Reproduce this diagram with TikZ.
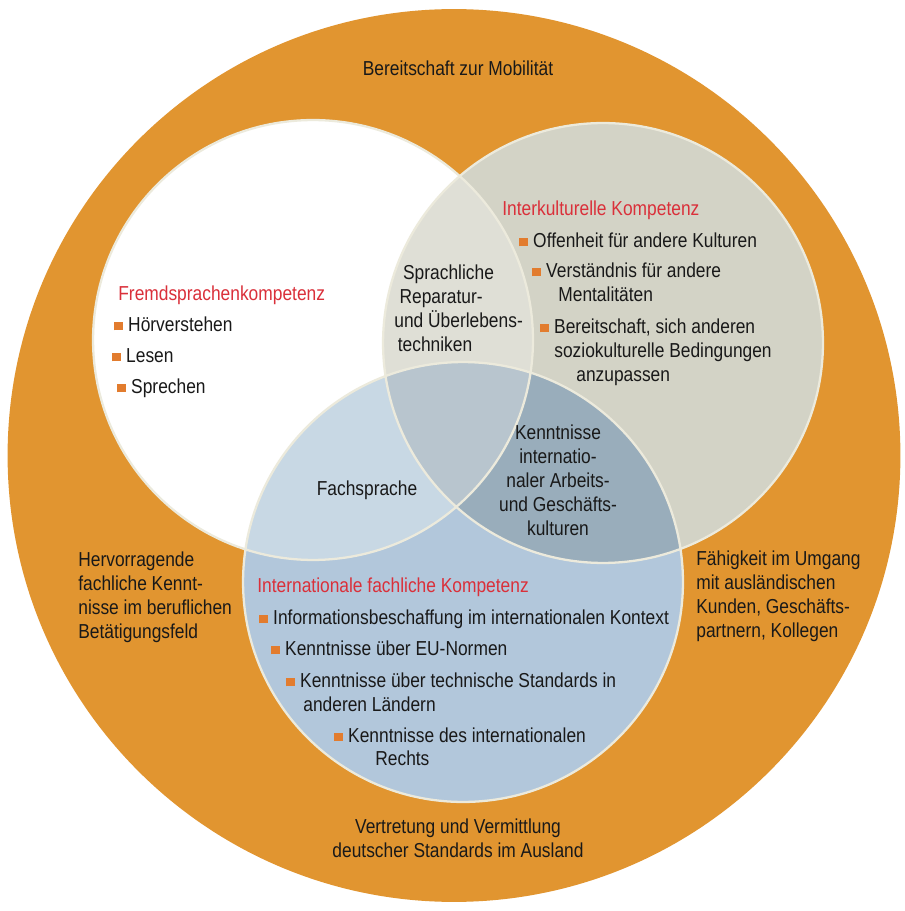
\documentclass[tikz,border=0pt]{standalone}
\usepackage{fontspec}
\setmainfont{Liberation Sans}[FakeStretch=0.86]

\definecolor{ringorange}{RGB}{225,149,48}
\definecolor{kultgrey}{RGB}{211,211,198}
\definecolor{fachblue}{RGB}{178,199,219}
\definecolor{sprgrey}{RGB}{223,223,214}
\definecolor{sprblue}{RGB}{200,216,228}
\definecolor{kultblue}{RGB}{153,173,187}
\definecolor{allthree}{RGB}{184,197,206}
\definecolor{rimcream}{RGB}{236,234,220}
\definecolor{titlered}{RGB}{218,48,58}
\definecolor{bulorange}{RGB}{226,124,46}
\definecolor{txtdark}{RGB}{25,25,25}

\newcommand{\bul}{{\color{bulorange}\rule[0.15ex]{0.8ex}{0.8ex}}\hspace{0.5ex}}
\newcommand{\rc}{4.4cm}

\tikzset{
    lbl/.style={inner sep=0pt, text=txtdark, font=\fontsize{11.5}{13.6}\selectfont,
        text height=8.8pt, text depth=2pt},
    ttl/.style={lbl, text=titlered},
    blk/.style={inner sep=0pt, text=txtdark, font=\fontsize{11.5}{13.6}\selectfont},
    rim/.style={draw=rimcream, line width=1.3pt},
}

\begin{document}
\begin{tikzpicture}[x=0.02cm,y=-0.02cm]
    \useasboundingbox (0,0) rectangle (904,911);

    % outer ring
    \fill[ringorange] (454,455.5) circle (8.93cm);

    % the three competence circles
    \coordinate (cspr) at (313,340);
    \coordinate (ckult) at (603,343);
    \coordinate (cfach) at (463,582);

    \fill[white] (cspr) circle (\rc);
    \fill[kultgrey] (ckult) circle (\rc);
    \fill[fachblue] (cfach) circle (\rc);
    \begin{scope}
        \clip (cspr) circle (\rc);
        \fill[sprgrey] (ckult) circle (\rc);
        \fill[sprblue] (cfach) circle (\rc);
    \end{scope}
    \begin{scope}
        \clip (ckult) circle (\rc);
        \fill[kultblue] (cfach) circle (\rc);
        \clip (cspr) circle (\rc);
        \fill[allthree] (cfach) circle (\rc);
    \end{scope}
    \draw[rim] (cspr) circle (\rc) (ckult) circle (\rc) (cfach) circle (\rc);

    % ring texts
    \node[lbl] (mobil) at (458,70) {Bereitschaft zur Mobilität};
    \node[blk, align=left, anchor=west] (hervor) at (78,597) {Hervorragende\\fachliche Kennt-\\nisse im beruflichen\\Betätigungsfeld};
    \node[blk, align=left, anchor=west] (umgang) at (696,596) {Fähigkeit im Umgang\\mit ausländischen\\Kunden, Geschäfts-\\partnern, Kollegen};
    \node[blk, align=center] (vertr) at (458,838) {Vertretung und Vermittlung\\deutscher Standards im Ausland};

    % Fremdsprachenkompetenz
    \node[ttl, anchor=west] (fremd) at (118,295) {Fremdsprachenkompetenz};
    \node[lbl, anchor=west] (hoer) at (114,326) {\bul Hörverstehen};
    \node[lbl, anchor=west] (lesen) at (112,357) {\bul Lesen};
    \node[lbl, anchor=west] (sprech) at (117,388) {\bul Sprechen};

    % Interkulturelle Kompetenz
    \node[ttl, anchor=west] (interk) at (502,210) {Interkulturelle Kompetenz};
    \node[lbl, anchor=west] (offen) at (519,242) {\bul Offenheit für andere Kulturen};
    \node[lbl, anchor=west] (verst) at (532,272) {\bul Verständnis für andere};
    \node[lbl, anchor=west] (verst2) at (558,296) {Mentalitäten};
    \node[lbl, anchor=west] (bereit) at (540,328) {\bul Bereitschaft, sich anderen};
    \node[lbl, anchor=west] (bereit2) at (554,352) {soziokulturelle Bedingungen};
    \node[lbl, anchor=west] (bereit3) at (576,376) {anzupassen};

    % Internationale fachliche Kompetenz
    \node[ttl, anchor=west] (intfach) at (257,587) {Internationale fachliche Kompetenz};
    \node[lbl, anchor=west] (infob) at (259,619) {\bul Informationsbeschaffung im internationalen Kontext};
    \node[lbl, anchor=west] (eunorm) at (271,650) {\bul Kenntnisse über EU-Normen};
    \node[lbl, anchor=west] (techst) at (286,682) {\bul Kenntnisse über technische Standards in};
    \node[lbl, anchor=west] (techst2) at (303,706) {anderen Ländern};
    \node[lbl, anchor=west] (recht) at (334,737) {\bul Kenntnisse des internationalen};
    \node[lbl, anchor=west] (recht2) at (375,760) {Rechts};

    % overlaps
    \node[blk, align=left, anchor=west] (repar) at (394,308) {\hspace*{5pt}Sprachliche\\\hspace*{3pt}Reparatur-\\und Überlebens-\\\hspace*{2pt}techniken};
    \node[lbl] (fachspr) at (367,490) {Fachsprache};
    \node[blk, align=center] (kultur) at (558,480) {Kenntnisse\\internatio-\\naler Arbeits-\\und Geschäfts-\\kulturen};
\end{tikzpicture}
\end{document}
